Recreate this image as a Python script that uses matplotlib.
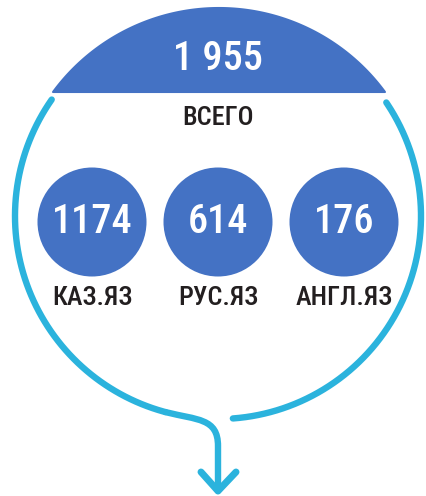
import numpy as np
import matplotlib
matplotlib.use('Agg')
import matplotlib.pyplot as plt
from matplotlib import font_manager
from matplotlib.patches import Circle, Polygon, PathPatch
from matplotlib.path import Path

# Data
total = 1955
values = [1174, 614, 176]
labels = ['КАЗ.ЯЗ', 'РУС.ЯЗ', 'АНГЛ.ЯЗ']
total_label = 'ВСЕГО'

blue = '#4472C4'
cyan = '#2BB3DD'
dark = '#231F20'

# pick a narrow font if one is installed
names = {f.name for f in font_manager.fontManager.ttflist}
narrow = [n for n in ['Roboto Condensed', 'Liberation Sans Narrow', 'Open Sans Condensed']
          if n in names]
font = narrow[0] if narrow else 'Roboto'
plt.rcParams['font.family'] = [font, 'DejaVu Sans']
num_size = 29 if narrow else 25
lab_size = 19 if narrow else 16

fig = plt.figure(figsize=(4.27, 4.96), dpi=100)
ax = fig.add_axes([0, 0, 1, 1])
ax.set_xlim(0, 427)
ax.set_ylim(496, 0)
ax.set_aspect('equal')
ax.axis('off')

lw = 4.6

# outer ring (two pieces, image coords with y down)
cx, cy, r = 218, 216, 203
def arc(a0, a1):
    t = np.radians(np.linspace(a0, a1, 200))
    return cx + r * np.cos(t), cy - r * np.sin(t)

x, y = arc(-85.8, 34)
ax.plot(x, y, color=cyan, lw=lw, solid_capstyle='round')

x, y = arc(145, 255)
ax.plot(x, y, color=cyan, lw=lw, solid_capstyle='round')
p0 = (x[-1], y[-1])
verts = [p0, (p0[0] + 32, p0[1] + 8), (218, 418), (218, 446), (218, 491)]
codes = [Path.MOVETO, Path.CURVE4, Path.CURVE4, Path.CURVE4, Path.LINETO]
ax.add_patch(PathPatch(Path(verts, codes), fill=False, edgecolor=cyan,
                       lw=lw, capstyle='round', joinstyle='round'))
ax.plot([201, 218, 236], [472, 491, 472], color=cyan, lw=lw + 0.4,
        solid_capstyle='round', solid_joinstyle='round')

# dome
dcx, dcy, R, cut = 219, 214, 206, 92
half = np.degrees(np.arccos((dcy - cut) / R))
t = np.radians(np.linspace(90 - half, 90 + half, 200))
dome = np.column_stack([dcx + R * np.cos(t), dcy - R * np.sin(t)])
ax.add_patch(Polygon(dome, closed=True, facecolor=blue, edgecolor=blue,
                     lw=1.5, joinstyle='round'))
ax.text(218, 59, f'{total:,}'.replace(',', ' '), color='white', fontsize=num_size,
        fontweight='medium', ha='center', va='center')
ax.text(218, 118, total_label, color=dark, fontsize=lab_size, fontweight='medium',
        ha='center', va='center')

# small circles
xs = [92, 218, 344]
for xc, v, lab in zip(xs, values, labels):
    ax.add_patch(Circle((xc, 222), 54.5, facecolor=blue, edgecolor='none'))
    ax.text(xc, 222, str(v), color='white', fontsize=num_size, fontweight='medium',
            ha='center', va='center')
    ax.text(xc, 298, lab, color=dark, fontsize=lab_size, fontweight='medium',
            ha='center', va='center')

fig.savefig('out.png', dpi=100)
